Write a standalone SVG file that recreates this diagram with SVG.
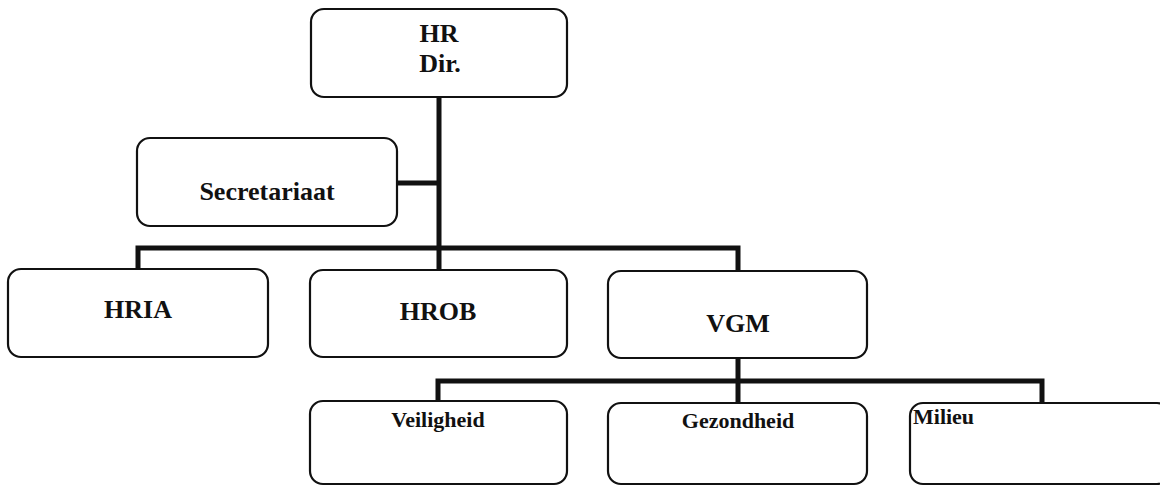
<svg xmlns="http://www.w3.org/2000/svg" width="1160" height="486" viewBox="0 0 1160 486">
<style>
.box{fill:#fff;stroke:#111;stroke-width:2.2}
.t{font-family:"Liberation Serif","Times New Roman",serif;font-weight:bold;font-size:26px;fill:#111;text-anchor:middle}
.s{font-family:"Liberation Serif","Times New Roman",serif;font-weight:bold;font-size:22px;fill:#111;text-anchor:middle}
.c{fill:none;stroke:#111;stroke-width:5;stroke-linejoin:miter}
</style>
<rect width="1160" height="486" fill="#fff"/>
<g id="connectors">
<path class="c" d="M439 97 V270"/>
<path class="c" d="M397 183 H439" stroke-width="4"/>
<path class="c" d="M138 269 V248 H738 V271"/>
<path class="c" d="M738 358 V403"/>
<path class="c" d="M438 401 V381 H1042 V403"/>
</g>
<g id="hr-dir"><rect class="box" x="311" y="9" width="256" height="88" rx="13"/><text class="t" x="439" y="42">HR</text><text class="t" x="440" y="72">Dir.</text></g>
<g id="secretariaat"><rect class="box" x="137" y="138" width="260" height="88" rx="13"/><text class="t" x="267" y="200">Secretariaat</text></g>
<g id="hria"><rect class="box" x="8" y="269" width="260" height="88" rx="13"/><text class="t" x="138" y="318">HRIA</text></g>
<g id="hrob"><rect class="box" x="310" y="270" width="257" height="87" rx="13"/><text class="t" x="438" y="320">HROB</text></g>
<g id="vgm"><rect class="box" x="608" y="271" width="259" height="87" rx="13"/><text class="t" x="738" y="332">VGM</text></g>
<g id="veiligheid"><rect class="box" x="310" y="401" width="257" height="83" rx="13"/><text class="s" x="438" y="427">Veiligheid</text></g>
<g id="gezondheid"><rect class="box" x="608" y="403" width="259" height="81" rx="13"/><text class="s" x="738" y="428">Gezondheid</text></g>
<g id="milieu"><rect class="box" x="910" y="403" width="260" height="81" rx="13"/><text class="s" x="913" y="424" style="text-anchor:start">Milieu</text></g>
</svg>
